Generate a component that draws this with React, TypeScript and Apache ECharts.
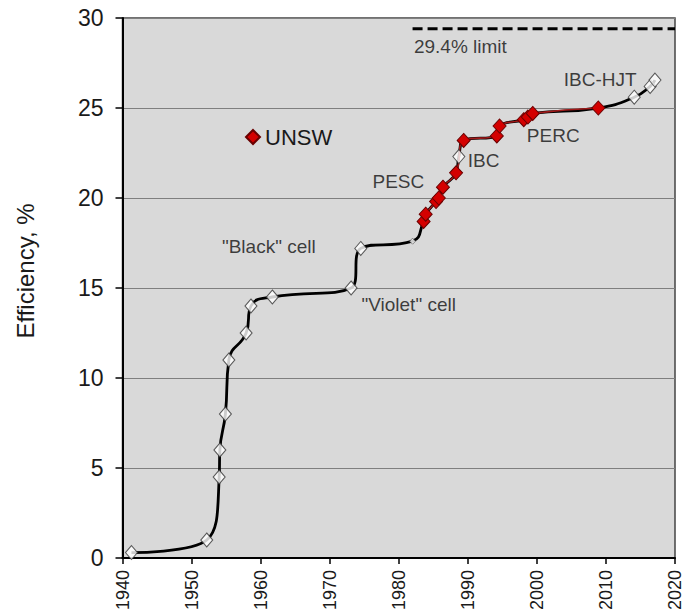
import React, { useEffect, useRef } from "react";
import * as echarts from "echarts";

// Record cell efficiencies (year, %)
const whiteYears = [1941.3, 1952.2, 1954.0, 1954.1, 1954.9, 1955.4, 1957.9, 1958.6, 1961.7, 1973.1, 1974.5, 1988.7, 2014.1, 2016.4, 2017.1];
const whiteEff = [0.3, 1.0, 4.5, 6.0, 8.0, 11.0, 12.5, 14.0, 14.5, 15.0, 17.2, 22.3, 25.6, 26.2, 26.55];
const smallYears = [1982.0];
const smallEff = [17.6];
const redYears = [1983.6, 1983.9, 1985.4, 1985.8, 1986.4, 1988.3, 1989.4, 1994.2, 1994.6, 1998.1, 1998.7, 1999.4, 2008.9];
const redEff = [18.7, 19.1, 19.8, 20.0, 20.6, 21.4, 23.2, 23.45, 24.0, 24.35, 24.5, 24.7, 25.0];
const limitYears = [1982.0, 2020];
const limitEff = [29.4, 29.4];

const annNames = ["29.4% limit", "PESC", "IBC", "PERC", "IBC-HJT", "\"Black\" cell", "\"Violet\" cell"];
const annYears = [1982.2, 1976.2, 1990.0, 1998.55, 2003.9, 1954.4, 1974.6];
const annEff = [28.44, 20.94, 22.07, 23.5, 26.56, 17.33, 14.06];

const FONT = "'Liberation Sans', Arial, sans-serif";

export default function App() {
  const ref = useRef<HTMLDivElement>(null);
  useEffect(() => {
    if (!ref.current) return;
    const chart = echarts.init(ref.current, undefined, { renderer: "svg" });
    const pts = (xs: number[], ys: number[]) => xs.map((x, i) => [x, ys[i]]);
    const curve = [...pts(whiteYears, whiteEff), ...pts(smallYears, smallEff), ...pts(redYears, redEff)].sort((a, b) => a[0] - b[0]);

    chart.setOption({
      animation: false,
      backgroundColor: "#ffffff",
      textStyle: { fontFamily: FONT },
      grid: {
        left: 122.5,
        right: 7.5,
        top: 18,
        bottom: 56,
        show: true,
        backgroundColor: "#d9d9d9",
        borderColor: "#444",
        borderWidth: 1.5,
      },
      legend: {
        data: [{ name: "UNSW", icon: "diamond" }],
        left: 240,
        top: 121,
        itemWidth: 14,
        itemHeight: 14,
        itemGap: 5,
        textStyle: { fontSize: 22, color: "#1a1a1a", fontFamily: FONT },
      },
      graphic: [
        {
          type: "text",
          x: 25,
          y: 271,
          rotation: Math.PI / 2,
          style: {
            text: "Efficiency, %",
            font: `24px ${FONT}`,
            fill: "#1a1a1a",
            align: "center",
            verticalAlign: "middle",
          },
        },
      ],
      xAxis: {
        type: "value",
        min: 1940,
        max: 2020,
        interval: 10,
        axisLine: { show: true, onZero: false, lineStyle: { color: "#000", width: 2 } },
        axisTick: { show: true, length: 6, lineStyle: { color: "#000", width: 1.5 } },
        axisLabel: {
          rotate: 90,
          fontSize: 18,
          margin: 12,
          color: "#1a1a1a",
          fontFamily: FONT,
          formatter: (v: number) => String(v),
        },
        splitLine: { show: false },
      },
      yAxis: {
        type: "value",
        min: 0,
        max: 30,
        interval: 5,
        axisLine: { show: true, lineStyle: { color: "#000", width: 2 } },
        axisTick: { show: true, length: 7, lineStyle: { color: "#000", width: 1.5 } },
        axisLabel: { fontSize: 23, margin: 19, color: "#1a1a1a", fontFamily: FONT },
        splitLine: { show: true, lineStyle: { color: "#7f7f7f", width: 1.2 } },
      },
      series: [
        {
          name: "curve",
          type: "line",
          data: curve,
          smooth: 0.5,
          symbol: "none",
          lineStyle: { color: "#000", width: 2.8 },
          z: 2,
        },
        {
          name: "limit",
          type: "line",
          data: pts(limitYears, limitEff),
          symbol: "none",
          lineStyle: { color: "#000", width: 3, type: [10, 5] },
          z: 2,
        },
        {
          name: "UNSW",
          type: "line",
          data: pts(redYears, redEff),
          smooth: 0.5,
          symbol: "diamond",
          symbolSize: [13, 14],
          lineStyle: { color: "#a11a1a", width: 1.6 },
          itemStyle: { color: "#d40000", borderColor: "#6a0000", borderWidth: 1 },
          z: 4,
        },
        {
          name: "others",
          type: "scatter",
          data: pts(whiteYears, whiteEff),
          symbol: "diamond",
          symbolSize: [12, 14],
          itemStyle: { color: "#ffffff", borderColor: "#333", borderWidth: 1 },
          z: 5,
        },
        {
          name: "small",
          type: "scatter",
          data: pts(smallYears, smallEff),
          symbol: "diamond",
          symbolSize: 6,
          itemStyle: { color: "#ffffff", borderColor: "#444", borderWidth: 0.8 },
          z: 5,
        },
        {
          name: "annotations",
          type: "scatter",
          data: annNames.map((n, i) => ({ name: n, value: [annYears[i], annEff[i]] })),
          symbolSize: 0,
          silent: true,
          label: {
            show: true,
            position: "right",
            distance: 0,
            formatter: (p: any) => p.name,
            fontSize: 19,
            color: "#111111",
            fontFamily: FONT,
          },
          z: 6,
        },
      ],
    });
    return () => chart.dispose();
  }, []);
  return <div ref={ref} style={{ position: "fixed", left: 0, top: 0, width: 684, height: 614 }} />;
}
